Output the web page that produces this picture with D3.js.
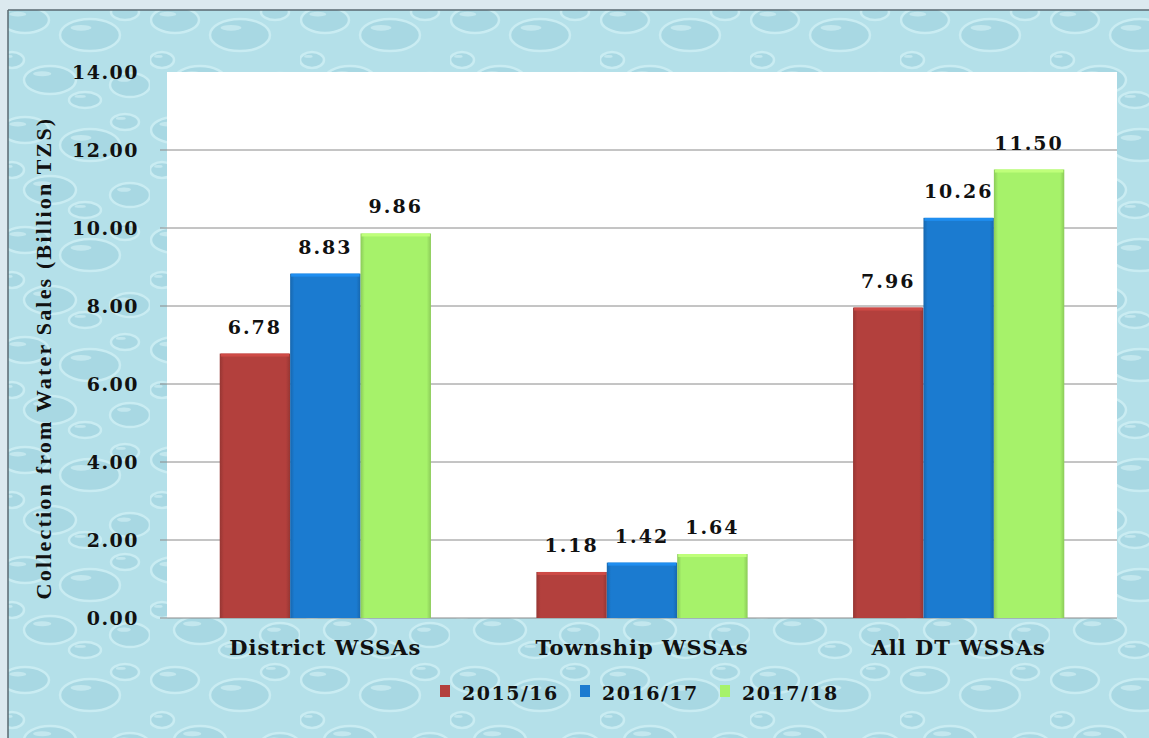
<!DOCTYPE html>
<html>
<head>
<meta charset="utf-8">
<script src="https://cdn.jsdelivr.net/npm/d3@7"></script>
<style>
  body { margin: 0; background: #dce9ef; }
  svg { display: block; }
</style>
</head>
<body>
<script>
// Data
const categories = ["District WSSAs", "Township WSSAs", "All DT WSSAs"];
const seriesNames = ["2015/16", "2016/17", "2017/18"];
const values2015 = [6.78, 1.18, 7.96];
const values2016 = [8.83, 1.42, 10.26];
const values2017 = [9.86, 1.64, 11.50];
const yTicks = [0, 2, 4, 6, 8, 10, 12, 14];
const colors = ["#b3403d", "#1b7bd0", "#a6f26a"];

const W = 1149, H = 738;
const plot = { left: 167, right: 1117, top: 72, bottom: 618 };

const svg = d3.select("body").append("svg")
    .attr("width", W)
    .attr("height", H);

const defs = svg.append("defs");

// water texture pattern (decorative, kept subtle)
const pat = defs.append("pattern")
    .attr("id", "water")
    .attr("patternUnits", "userSpaceOnUse")
    .attr("width", 150).attr("height", 110);
pat.append("rect").attr("width", 150).attr("height", 110).attr("fill", "#b4e0e9");
const drops = [[25, 20, 24, 13], [90, 35, 30, 16], [130, 85, 20, 12], [50, 80, 26, 14], [125, 12, 14, 8], [12, 60, 12, 8], [85, 100, 16, 8]];
drops.forEach(d => {
  pat.append("ellipse")
      .attr("cx", d[0]).attr("cy", d[1]).attr("rx", d[2]).attr("ry", d[3])
      .attr("fill", "#a8d8e3").attr("stroke", "#c9ecf2").attr("stroke-width", 2.5);
  pat.append("ellipse")
      .attr("cx", d[0] - d[2] * 0.3).attr("cy", d[1] - d[3] * 0.45).attr("rx", d[2] * 0.35).attr("ry", d[3] * 0.18)
      .attr("fill", "#d6f1f5").attr("opacity", 0.6);
});

// bar gradients
colors.forEach((c, i) => {
  const g = defs.append("linearGradient").attr("id", "bar" + i)
      .attr("x1", 0).attr("x2", 1).attr("y1", 0).attr("y2", 0);
  g.append("stop").attr("offset", "0%").attr("stop-color", d3.color(c).darker(0.5));
  g.append("stop").attr("offset", "6%").attr("stop-color", c);
  g.append("stop").attr("offset", "94%").attr("stop-color", c);
  g.append("stop").attr("offset", "100%").attr("stop-color", d3.color(c).darker(0.5));
});

// background panel
svg.append("rect")
    .attr("x", 8).attr("y", 10)
    .attr("width", W - 8).attr("height", H - 10)
    .attr("fill", "url(#water)");
svg.append("line").attr("x1", 8).attr("x2", 8).attr("y1", 10).attr("y2", H)
    .attr("stroke", "#5a6870").attr("stroke-width", 1.5);
svg.append("line").attr("x1", 8).attr("x2", W).attr("y1", 10).attr("y2", 10)
    .attr("stroke", "#5a6870").attr("stroke-width", 1.5);

// plot area
svg.append("rect")
    .attr("x", plot.left).attr("y", plot.top)
    .attr("width", plot.right - plot.left).attr("height", plot.bottom - plot.top)
    .attr("fill", "#ffffff");

const x0 = d3.scaleBand()
    .domain(categories)
    .range([plot.left, plot.right])
    .paddingInner(0.333)
    .paddingOuter(0.1665);

const x1 = d3.scaleBand()
    .domain(seriesNames)
    .range([0, x0.bandwidth()]);

const y = d3.scaleLinear()
    .domain([0, 14])
    .range([plot.bottom, plot.top]);

// gridlines
svg.append("g").selectAll("line")
    .data(yTicks)
    .enter().append("line")
    .attr("x1", plot.left - 7).attr("x2", plot.right)
    .attr("y1", d => y(d)).attr("y2", d => y(d))
    .attr("stroke", d => d === 14 ? "none" : "#8a8a8a")
    .attr("stroke-width", 1);

// y axis labels
svg.append("g").selectAll("text")
    .data(yTicks)
    .enter().append("text")
    .attr("x", 139).attr("y", d => y(d))
    .attr("dy", "0.35em")
    .attr("text-anchor", "end")
    .attr("font-family", "DejaVu Serif")
    .attr("font-weight", "bold")
    .attr("font-size", 19)
    .attr("letter-spacing", 1.5)
    .attr("fill", "#111")
    .text(d => d3.format(".2f")(d));

// y axis title
svg.append("text")
    .attr("transform", `translate(51,358) rotate(-90)`)
    .attr("text-anchor", "middle")
    .attr("font-family", "Liberation Serif")
    .attr("font-weight", "bold")
    .attr("font-size", 22)
    .attr("letter-spacing", 2.2)
    .attr("fill", "#111")
    .text("Collection from Water Sales (Billion TZS)");

// bars
const series = [values2015, values2016, values2017];
const rows = categories.map((c, i) => ({
  cat: c,
  vals: seriesNames.map((s, j) => ({ s: s, j: j, v: series[j][i] }))
}));

const group = svg.append("g").selectAll("g")
    .data(rows)
    .enter().append("g")
    .attr("transform", d => `translate(${x0(d.cat)},0)`);

group.selectAll("rect.bar")
    .data(d => d.vals)
    .enter().append("rect")
    .attr("class", "bar")
    .attr("x", d => x1(d.s))
    .attr("y", d => y(d.v))
    .attr("width", x1.bandwidth())
    .attr("height", d => y(0) - y(d.v))
    .attr("fill", d => "url(#bar" + d.j + ")");

// bevel highlight on bar tops
group.selectAll("rect.top")
    .data(d => d.vals)
    .enter().append("rect")
    .attr("class", "top")
    .attr("x", d => x1(d.s) + 1)
    .attr("y", d => y(d.v))
    .attr("width", x1.bandwidth() - 2)
    .attr("height", 3)
    .attr("fill", d => d3.color(colors[d.j]).brighter(0.4));

group.selectAll("text")
    .data(d => d.vals)
    .enter().append("text")
    .attr("x", d => x1(d.s) + x1.bandwidth() / 2)
    .attr("y", d => y(d.v) - 20)
    .attr("text-anchor", "middle")
    .attr("font-family", "DejaVu Serif")
    .attr("font-weight", "bold")
    .attr("font-size", 19)
    .attr("letter-spacing", 2)
    .attr("fill", "#111")
    .text(d => d3.format(".2f")(d.v));

// category labels
svg.append("g").selectAll("text")
    .data(categories)
    .enter().append("text")
    .attr("x", d => x0(d) + x0.bandwidth() / 2)
    .attr("y", 655)
    .attr("text-anchor", "middle")
    .attr("font-family", "DejaVu Serif")
    .attr("font-weight", "bold")
    .attr("font-size", 21)
    .attr("letter-spacing", 1)
    .attr("fill", "#111")
    .text(d => d);

// legend
const legendX = [440, 580, 720];
const legend = svg.append("g").selectAll("g")
    .data(seriesNames)
    .enter().append("g")
    .attr("transform", (d, i) => `translate(${legendX[i]},700)`);
legend.append("rect")
    .attr("x", 0).attr("y", -15)
    .attr("width", 10).attr("height", 12)
    .attr("fill", (d, i) => colors[i]);
legend.append("text")
    .attr("x", 22).attr("y", 0)
    .attr("font-family", "DejaVu Serif")
    .attr("font-weight", "bold")
    .attr("font-size", 19)
    .attr("letter-spacing", 1.5)
    .attr("fill", "#111")
    .text(d => d);
</script>
</body>
</html>
